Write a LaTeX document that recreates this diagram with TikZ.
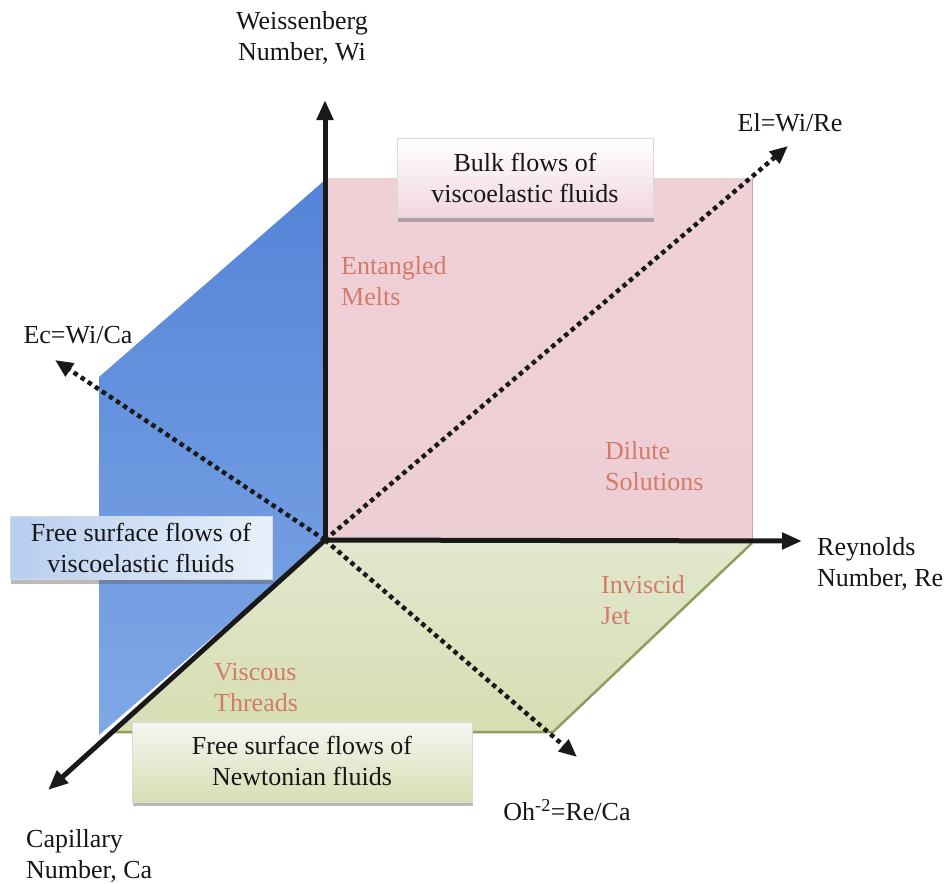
\documentclass[tikz,border=0pt]{standalone}
\usepackage{fontspec}
\setmainfont{Liberation Serif}
\usetikzlibrary{arrows.meta,shadows}
\definecolor{bluetop}{RGB}{84,132,216}
\definecolor{bluebot}{RGB}{128,168,230}
\definecolor{pinkA}{RGB}{240,208,215}
\definecolor{pinkB}{RGB}{249,240,243}
\definecolor{pinkC}{RGB}{238,206,213}
\definecolor{pinkline}{RGB}{205,160,170}
\definecolor{greenA}{RGB}{226,231,206}
\definecolor{greenB}{RGB}{202,214,146}
\definecolor{greenC}{RGB}{214,222,178}
\definecolor{greenline}{RGB}{140,158,96}
\definecolor{salmon}{RGB}{212,122,106}
\definecolor{textc}{RGB}{22,22,22}
\definecolor{boxblueL}{RGB}{184,206,240}
\definecolor{boxblueR}{RGB}{232,240,250}
\definecolor{boxgreenT}{RGB}{246,246,242}
\definecolor{boxgreenB}{RGB}{214,222,178}
\definecolor{boxpinkB}{RGB}{240,214,220}
\begin{document}
\begin{tikzpicture}[x=1pt,y=-1pt,
  every node/.style={font=\fontsize{26}{31}\selectfont, text=textc, inner sep=0pt},
  axisline/.style={line width=5pt, draw=black!90, -{Triangle[length=20pt,width=16pt]}},
  dotline/.style={line width=4.5pt, draw=black!90, dash pattern=on 4.5pt off 4pt, -{Triangle[length=18pt,width=15pt]}},
  region/.style={text=salmon, align=left, anchor=west},
  axlabel/.style={align=center},
  infobox/.style={draw=black!15, line width=0.8pt, minimum width=#1, align=center,
    drop shadow={shadow xshift=1pt, shadow yshift=-4pt, opacity=0.45, fill=black!60}},
]
\useasboundingbox (0,0) rectangle (946,884);
\fill[white] (0,0) rectangle (946,884);

\coordinate (O) at (325,540);
\coordinate (WiTip) at (325,100);
\coordinate (ReTip) at (802,541);
\coordinate (CaTip) at (48,790);
\coordinate (ElTip) at (788,146);
\coordinate (EcTip) at (55,360);
\coordinate (OhTip) at (577,757);

% blue plane
\shade[top color=bluetop, bottom color=bluebot] (325,180) -- (O) -- (99,735) -- (99,377) -- cycle;
% pink plane
\shade[top color=pinkA, middle color=pinkB, bottom color=pinkC] (325,178) rectangle (752,540);
\draw[pinkline, line width=1pt] (752,178) -- (752,540);
% green plane
\shade[top color=greenA, middle color=greenB, bottom color=greenC] (O) -- (752,541) -- (553,732) -- (112,732) -- cycle;
\draw[greenline, line width=2.5pt] (752,543) -- (553,732) -- (112,732);

% dotted diagonal axes
\draw[dotline] (O) -- (ElTip);
\draw[dotline] (O) -- (EcTip);
\draw[dotline] (O) -- (OhTip);

% solid axes
\draw[axisline] (O) -- (WiTip);
\draw[axisline] (O) -- (ReTip);
\draw[axisline] (O) -- (CaTip);

% boxes
\node[infobox=256pt, minimum height=79pt, top color=white, bottom color=boxpinkB] (bulk) at (525,178) {Bulk flows of\\viscoelastic fluids};
\node[infobox=262pt, minimum height=63pt, left color=boxblueL, right color=boxblueR] (fsv) at (141,548) {Free surface flows of\\viscoelastic fluids};
\node[infobox=340pt, minimum height=80pt, top color=boxgreenT, bottom color=boxgreenB, anchor=north] (fsn) at (302,722) {};
\node[align=center] (fsntext) at (302,761) {Free surface flows of\\Newtonian fluids};

% axis labels
\node[axlabel] (wi) at (302,38) {Weissenberg\\Number, Wi};
\node[axlabel] (el) at (790,123) {El=Wi/Re};
\node[axlabel] (ec) at (78,335) {Ec=Wi/Ca};
\node[align=left, anchor=west] (re) at (817,564) {Reynolds\\Number, Re};
\node[axlabel] (oh) at (567,810) {Oh\textsuperscript{-2}=Re/Ca};
\node[align=left, anchor=west] (ca) at (26,856) {Capillary\\Number, Ca};

% region labels
\node[region] (ent) at (341,281) {Entangled\\Melts};
\node[region] (dil) at (605,466) {Dilute\\Solutions};
\node[region] (inv) at (601,600) {Inviscid\\Jet};
\node[region] (vis) at (214,688) {Viscous\\Threads};
\end{tikzpicture}
\end{document}
